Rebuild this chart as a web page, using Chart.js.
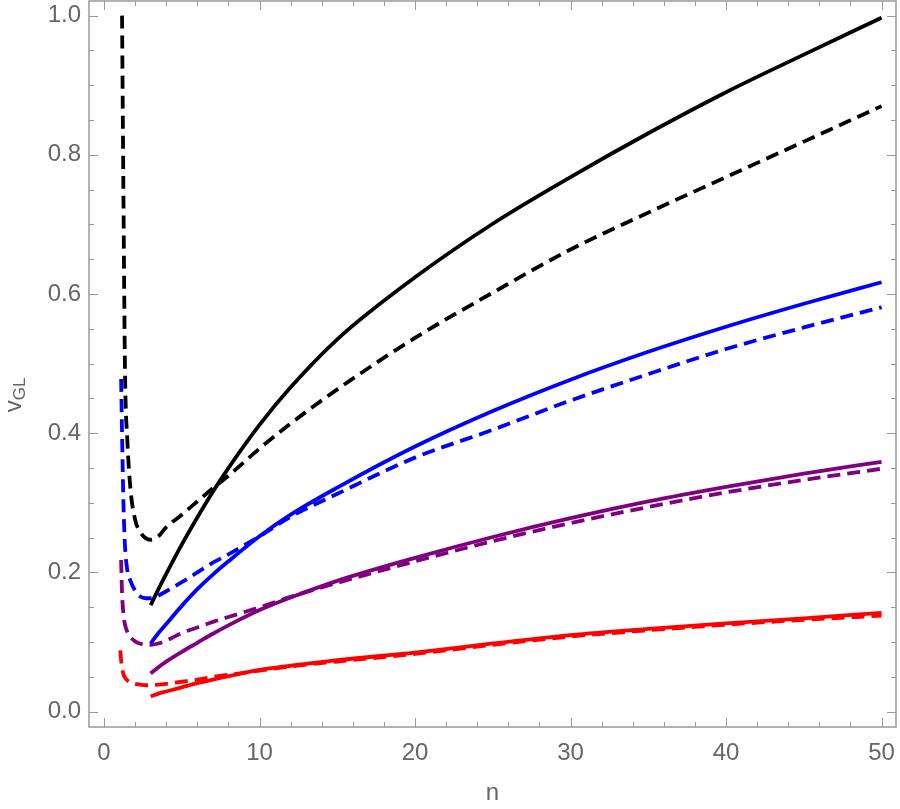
<!DOCTYPE html>
<html>
<head>
<meta charset="utf-8">
<script src="https://cdn.jsdelivr.net/npm/chart.js@4.4.0/dist/chart.umd.min.js"></script>
<style>
  html, body { margin: 0; padding: 0; background: #fff; }
</style>
</head>
<body>
<canvas id="chart" width="900" height="809"></canvas>
<script>
// n values for the solid curves (start at n = 3)
const nSolid = [3, 3.5, 4, 5, 6, 7, 8, 10, 12, 15, 20, 25, 30, 35, 40, 45, 50];
// n values for the dashed curves (start near n = 1)
const nDashed = [1.05, 1.1, 1.16, 1.25, 1.35, 1.5, 1.7, 2, 2.3, 2.7, 3, 3.5, 4, 5, 6, 7, 8, 10, 12, 15, 20, 25, 30, 35, 40, 45, 50];

// solid curves
const blackSolid  = [0.153, 0.176, 0.198, 0.240, 0.279, 0.316, 0.350, 0.412, 0.466, 0.535, 0.624, 0.701, 0.768, 0.831, 0.890, 0.944, 0.997];
const blueSolid   = [0.098, 0.113, 0.126, 0.152, 0.176, 0.197, 0.216, 0.252, 0.283, 0.322, 0.381, 0.432, 0.477, 0.517, 0.553, 0.586, 0.617];
const purpleSolid = [0.055, 0.064, 0.072, 0.086, 0.099, 0.112, 0.124, 0.146, 0.164, 0.188, 0.221, 0.251, 0.278, 0.302, 0.323, 0.342, 0.359];
const redSolid    = [0.022, 0.026, 0.029, 0.035, 0.041, 0.046, 0.051, 0.060, 0.066, 0.074, 0.085, 0.098, 0.110, 0.119, 0.127, 0.134, 0.142];

// dashed curves (null = not drawn there)
const blackDashed  = [null, null, 1.0, 0.74, 0.49, 0.39, 0.32, 0.276, 0.259, 0.249, 0.247, 0.252, 0.265, 0.283, 0.302, 0.321, 0.339, 0.378, 0.414, 0.463, 0.537, 0.602, 0.664, 0.717, 0.768, 0.819, 0.870];
const blueDashed   = [null, 0.478, 0.40, 0.30, 0.238, 0.203, 0.188, 0.174, 0.166, 0.163, 0.163, 0.167, 0.173, 0.186, 0.200, 0.214, 0.226, 0.252, 0.280, 0.313, 0.365, 0.405, 0.447, 0.485, 0.521, 0.552, 0.581];
const purpleDashed = [null, 0.218, 0.170, 0.140, 0.125, 0.115, 0.107, 0.101, 0.098, 0.096, 0.096, 0.098, 0.102, 0.113, 0.121, 0.129, 0.136, 0.150, 0.165, 0.185, 0.216, 0.245, 0.271, 0.294, 0.315, 0.333, 0.349];
const redDashed    = [0.088, 0.074, 0.063, 0.054, 0.049, 0.045, 0.042, 0.040, 0.039, 0.038, 0.038, 0.039, 0.040, 0.043, 0.046, 0.050, 0.053, 0.059, 0.065, 0.072, 0.083, 0.096, 0.108, 0.117, 0.125, 0.132, 0.138];

// tick labels
const xTicks = [0, 10, 20, 30, 40, 50];
const yTicks = [0.0, 0.2, 0.4, 0.6, 0.8, 1.0];


function toPoints(xs, ys) {
    return xs.map((x, i) => ({ x: x, y: ys[i] }));
}

function line(data, color, dashed) {
    return {
        data: data,
        borderColor: color,
        borderWidth: 3.8,
        borderDash: dashed ? [13, 7] : [],
        pointRadius: 0,
        fill: false,
        spanGaps: false,
        cubicInterpolationMode: 'monotone'
    };
}

const labelColor = '#666666';
const frameColor = '#999999';

// Mathematica style frame with inward ticks on all four sides, plus axis labels
const framePlugin = {
    id: 'frame',
    afterDraw(chart) {
        const ctx = chart.ctx;
        const a = chart.chartArea;
        const xs = chart.scales.x;
        const ys = chart.scales.y;
        ctx.save();
        ctx.strokeStyle = frameColor;
        ctx.lineWidth = 1.5;
        ctx.strokeRect(a.left, a.top, a.right - a.left, a.bottom - a.top);

        ctx.lineWidth = 1;
        ctx.beginPath();
        for (let n = 0; n <= 50; n += 2) {
            const px = Math.round(xs.getPixelForValue(n)) + 0.5;
            const len = n % 10 === 0 ? 9 : 5;
            ctx.moveTo(px, a.bottom); ctx.lineTo(px, a.bottom - len);
            ctx.moveTo(px, a.top); ctx.lineTo(px, a.top + len);
        }
        for (let k = 0; k <= 20; k++) {
            const v = k * 0.05;
            const py = Math.round(ys.getPixelForValue(v)) + 0.5;
            const len = k % 4 === 0 ? 9 : 5;
            ctx.moveTo(a.left, py); ctx.lineTo(a.left + len, py);
            ctx.moveTo(a.right, py); ctx.lineTo(a.right - len, py);
        }
        ctx.stroke();

        // axis labels
        ctx.fillStyle = labelColor;
        ctx.textAlign = 'center';
        ctx.textBaseline = 'middle';
        ctx.font = '24px "Liberation Sans"';
        ctx.fillText('n', (a.left + a.right) / 2, 793);

        ctx.translate(15, 395);
        ctx.rotate(-Math.PI / 2);
        ctx.textAlign = 'left';
        ctx.textBaseline = 'alphabetic';
        ctx.font = '24px "Liberation Sans"';
        const vw = ctx.measureText('v').width;
        ctx.font = '17px "Liberation Sans"';
        const gw = ctx.measureText('GL').width;
        const start = -(vw + gw) / 2;
        ctx.font = '24px "Liberation Sans"';
        ctx.fillText('v', start, 6);
        ctx.font = '17px "Liberation Sans"';
        ctx.fillText('GL', start + vw, 10);
        ctx.restore();
    }
};

new Chart(document.getElementById('chart'), {
    type: 'line',
    data: {
        datasets: [
            line(toPoints(nSolid, blackSolid), '#000000', false),
            line(toPoints(nDashed, blackDashed), '#000000', true),
            line(toPoints(nSolid, blueSolid), '#0000ff', false),
            line(toPoints(nDashed, blueDashed), '#0000ff', true),
            line(toPoints(nSolid, purpleSolid), '#800080', false),
            line(toPoints(nDashed, purpleDashed), '#800080', true),
            line(toPoints(nSolid, redSolid), '#ff0000', false),
            line(toPoints(nDashed, redDashed), '#ff0000', true)
        ]
    },
    options: {
        responsive: false,
        animation: false,
        layout: { padding: { top: 1, right: 4, left: 0, bottom: 0 } },
        plugins: {
            legend: { display: false },
            tooltip: { enabled: false }
        },
        scales: {
            x: {
                type: 'linear',
                min: -0.965,
                max: 50.93,
                afterBuildTicks: s => { s.ticks = xTicks.map(v => ({ value: v })); },
                afterFit: s => { s.height = 82; s.paddingLeft = 0; s.paddingRight = 0; },
                grid: { display: false, drawTicks: false },
                border: { display: false },
                ticks: {
                    color: labelColor,
                    font: { family: 'Liberation Sans', size: 24 },
                    padding: 12,
                    maxRotation: 0,
                    callback: v => String(v)
                }
            },
            y: {
                type: 'linear',
                min: -0.022,
                max: 1.021,
                afterBuildTicks: s => { s.ticks = yTicks.map(v => ({ value: v })); },
                afterFit: s => { s.width = 89; s.paddingTop = 0; s.paddingBottom = 0; },
                grid: { display: false, drawTicks: false },
                border: { display: false },
                ticks: {
                    color: labelColor,
                    font: { family: 'Liberation Sans', size: 24 },
                    padding: 8,
                    callback: v => v.toFixed(1)
                }
            }
        }
    },
    plugins: [framePlugin]
});
</script>
</body>
</html>
